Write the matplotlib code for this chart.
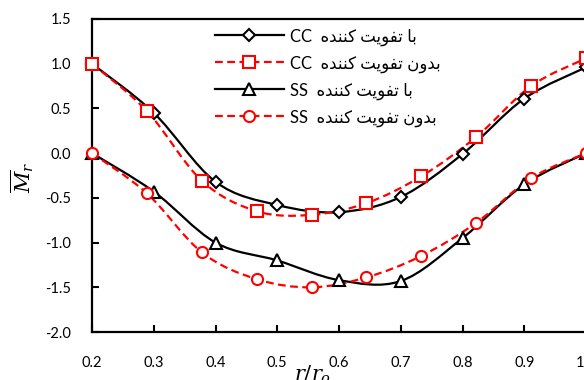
import matplotlib
matplotlib.use('Agg')
import matplotlib.pyplot as plt
from matplotlib.path import Path
from matplotlib.patches import PathPatch
from matplotlib.lines import Line2D
import numpy as np

plt.rcParams['font.family'] = ['Lato', 'DejaVu Sans']
plt.rcParams['mathtext.fontset'] = 'dejavuserif'

# data
x_with = [0.2, 0.3, 0.4, 0.5, 0.6, 0.7, 0.8, 0.9, 1.0]
x_without = [0.2, 0.289, 0.378, 0.467, 0.556, 0.644, 0.733, 0.822, 0.911, 1.0]
cc_with = [1.0, 0.45, -0.32, -0.58, -0.66, -0.49, -0.01, 0.61, 0.96]
cc_without = [1.0, 0.47, -0.31, -0.65, -0.69, -0.56, -0.26, 0.18, 0.75, 1.06]
ss_with = [0.0, -0.43, -1.0, -1.2, -1.42, -1.43, -0.95, -0.35, 0.0]
ss_without = [0.0, -0.45, -1.11, -1.41, -1.50, -1.39, -1.15, -0.78, -0.28, 0.0]

series_tags = ['CC', 'CC', 'SS', 'SS']
series_text = ['با تقویت کننده', 'بدون تقویت کننده', 'با تقویت کننده', 'بدون تقویت کننده']

xticks = [0.2, 0.3, 0.4, 0.5, 0.6, 0.7, 0.8, 0.9, 1.0]
yticks = [-2.0, -1.5, -1.0, -0.5, 0.0, 0.5, 1.0, 1.5]

# simple Persian shaping (matplotlib has no complex text layout)
FORMS = {
    'ا': ('\uFE8D', '\uFE8E', None, None),
    'ب': ('\uFE8F', '\uFE90', '\uFE91', '\uFE92'),
    'ت': ('\uFE95', '\uFE96', '\uFE97', '\uFE98'),
    'ق': ('\uFED1', '\uFED2', '\uFED3', '\uFED4'),
    'و': ('\uFEED', '\uFEEE', None, None),
    'ی': ('\uFBFC', '\uFBFD', '\uFBFE', '\uFBFF'),
    'ک': ('\uFB8E', '\uFB8F', '\uFB90', '\uFB91'),
    'ن': ('\uFEE5', '\uFEE6', '\uFEE7', '\uFEE8'),
    'د': ('\uFEA9', '\uFEAA', None, None),
    'ه': ('\uFEE9', '\uFEEA', '\uFEEB', '\uFEEC'),
}


def shape(text):
    out = []
    for i, ch in enumerate(text):
        if ch not in FORMS:
            out.append(ch)
            continue
        prev = text[i - 1] if i > 0 else ''
        nxt = text[i + 1] if i + 1 < len(text) else ''
        jp = prev in FORMS and FORMS[prev][2] is not None
        jn = nxt in FORMS and FORMS[ch][2] is not None
        iso, fin, ini, med = FORMS[ch]
        if jp and jn:
            out.append(med)
        elif jp:
            out.append(fin)
        elif jn:
            out.append(ini)
        else:
            out.append(iso)
    return ''.join(out)[::-1]


def smooth(ax, xs, ys, **kw):
    # Excel-like smoothed line: cubic bezier through the points
    p = np.column_stack([xs, ys])
    verts = [p[0]]
    codes = [Path.MOVETO]
    n = len(p)
    for i in range(n - 1):
        p0 = p[i - 1] if i > 0 else p[i]
        p3 = p[i + 2] if i + 2 < n else p[i + 1]
        c1 = p[i] + (p[i + 1] - p0) / 6.0
        c2 = p[i + 1] - (p3 - p[i]) / 6.0
        verts += [c1, c2, p[i + 1]]
        codes += [Path.CURVE4] * 3
    ax.add_patch(PathPatch(Path(verts, codes), fill=False, **kw))


fig = plt.figure(figsize=(5.84, 3.80), dpi=100)
ax = fig.add_axes([92 / 584, 48 / 380, 494 / 584, 313 / 380])

black = dict(color='black', lw=1.6, ls='-')
red = dict(color='#ff0000', lw=1.6, ls=(0, (3.5, 2)))

styles = [
    (x_with, cc_with, black, 'D', 6.5),
    (x_without, cc_without, red, 's', 8.5),
    (x_with, ss_with, black, '^', 8.5),
    (x_without, ss_without, red, 'o', 8),
]

handles = []
for (xs, ys, st, mk, ms), tag, txt in zip(styles, series_tags, series_text):
    smooth(ax, xs, ys, edgecolor=st['color'], lw=st['lw'], ls=st['ls'])
    ax.plot(xs, ys, ls='none', marker=mk, ms=ms, mfc='white', mec=st['color'],
            mew=1.5, clip_on=False, zorder=3)
    handles.append(Line2D([], [], color=st['color'], lw=st['lw'], ls=st['ls'],
                          marker=mk, ms=ms, mfc='white', mec=st['color'], mew=1.5,
                          label=tag + '  ' + shape(txt)))

ax.set_xlim(0.2, 1.0)
ax.set_ylim(-2.0, 1.5)
ax.set_xticks(xticks)
ax.set_yticks(yticks)
ax.set_xticklabels(['%.1f' % v for v in xticks])
ax.set_yticklabels(['%.1f' % v for v in yticks])
ax.tick_params(direction='in', length=5, width=1.5, labelsize=10.5)
ax.tick_params(axis='x', pad=17)
ax.tick_params(axis='y', pad=15)
for s in ax.spines.values():
    s.set_linewidth(1.6)

fig.text(313 / 584, 5 / 380, '$r/r_o$', fontsize=15, ha='center', va='center')
fig.text(22 / 584, 1 - 177 / 380, r'$\overline{M}_r$', fontsize=15,
         rotation=90, ha='center', va='center')

ax.legend(handles=handles, loc='upper left', bbox_to_anchor=(207 / 584, 1 - 20 / 380),
          bbox_transform=fig.transFigure, frameon=False, fontsize=12,
          handlelength=4.1, handletextpad=0.4, labelspacing=0.58, borderpad=0)

fig.savefig('out.png', dpi=100)
